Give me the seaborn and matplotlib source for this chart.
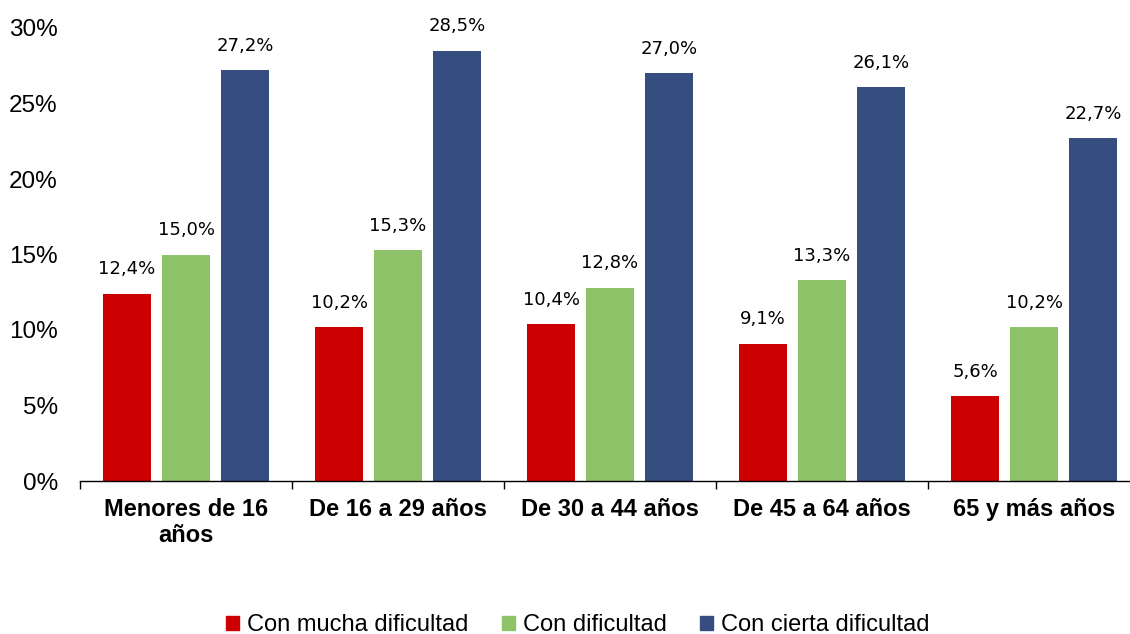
import pandas as pd
import seaborn as sns
import matplotlib.pyplot as plt
from matplotlib.patches import Patch
from matplotlib.ticker import FixedLocator

# datos
grupos = ["Menores de 16\naños", "De 16 a 29 años", "De 30 a 44 años",
          "De 45 a 64 años", "65 y más años"]
series = ["Con mucha dificultad", "Con dificultad", "Con cierta dificultad"]
mucha = [12.4, 10.2, 10.4, 9.1, 5.6]
dificultad = [15.0, 15.3, 12.8, 13.3, 10.2]
cierta = [27.2, 28.5, 27.0, 26.1, 22.7]
colores = ["#CC0000", "#8FC36A", "#364D80"]

df = pd.DataFrame({
    "grupo": grupos * 3,
    "serie": [series[0]] * 5 + [series[1]] * 5 + [series[2]] * 5,
    "valor": mucha + dificultad + cierta,
})

sns.set_style("white")
plt.rcParams['font.family'] = ['Liberation Sans', 'DejaVu Sans']
plt.rcParams['text.color'] = 'black'
plt.rcParams['xtick.color'] = 'black'
plt.rcParams['ytick.color'] = 'black'

fig = plt.figure(figsize=(11.3, 6.34), dpi=100)
ax = fig.add_axes([80 / 1130, 1 - 481 / 634, 1060 / 1130, (481 - 28) / 634])

sns.barplot(data=df, x="grupo", y="valor", hue="serie", palette=colores,
            width=0.834, gap=0.19, saturation=1, linewidth=0,
            legend=False, ax=ax)

for cont in ax.containers:
    for bar in cont:
        h = bar.get_height()
        ax.annotate(f"{h:.1f}%".replace(".", ","),
                    (bar.get_x() + bar.get_width() / 2, h),
                    xytext=(0, 11), textcoords="offset points",
                    ha="center", va="bottom", fontsize=13,
                    family="DejaVu Sans", color="black")

ax.set_xlim(-0.5, 4.5)
ax.set_ylim(0, 30)
ax.set_yticks(range(0, 31, 5))
ax.set_yticklabels([f"{v}%" for v in range(0, 31, 5)], fontsize=17.5)
ax.set_xticklabels(grupos, fontsize=17, fontweight="bold")
ax.set_xlabel("")
ax.set_ylabel("")
ax.xaxis.set_minor_locator(FixedLocator([i - 0.5 for i in range(6)]))
ax.tick_params(axis="x", which="major", length=0, pad=12)
ax.tick_params(axis="x", which="minor", length=6, width=1, color="black",
               direction="out", bottom=True)
ax.tick_params(axis="y", length=0, pad=16)

for s in ["top", "right", "left"]:
    ax.spines[s].set_visible(False)
ax.spines["bottom"].set_color("black")
ax.spines["bottom"].set_linewidth(1)

handles = [Patch(color=c, label=s) for c, s in zip(colores, series)]
fig.legend(handles=handles, loc="center", bbox_to_anchor=(578 / 1130, 1 - 625 / 634),
           ncol=3, frameon=False, fontsize=17, handlelength=0.55, handleheight=0.55,
           handletextpad=0.35, columnspacing=1.4)

fig.savefig("out.png", dpi=100)
